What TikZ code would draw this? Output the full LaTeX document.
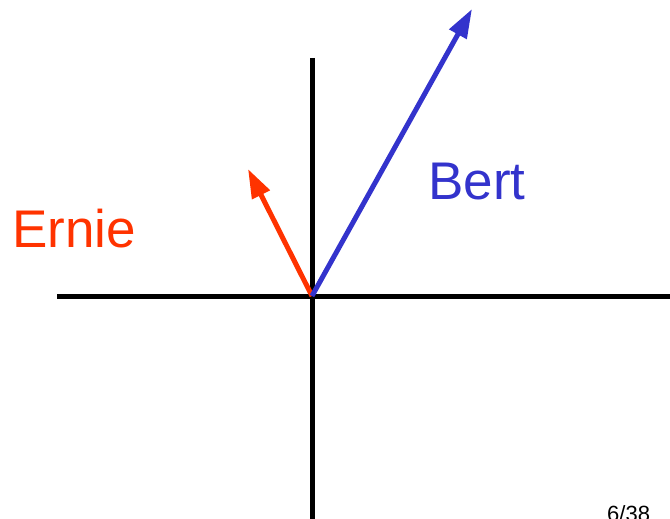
\documentclass[tikz,border=0pt]{standalone}
\usepackage{fontspec}
\setmainfont{Liberation Sans}
\usetikzlibrary{arrows.meta}
\definecolor{bertblue}{RGB}{51,51,204}
\definecolor{ernired}{RGB}{255,51,0}
\begin{document}
\begin{tikzpicture}[x=1pt,y=-1pt,
  axis/.style={line width=5pt,black},
  vec/.style={line width=5pt,-{Triangle[length=29pt,width=19pt]}},
  lbl/.style={inner sep=0pt,anchor=base west,font=\fontsize{53}{60}\selectfont}]
\useasboundingbox (0,0) rectangle (670,519);
\coordinate (o) at (312,296);
\coordinate (xl) at (57,296);
\coordinate (xr) at (670,296);
\coordinate (yt) at (312,58);
\coordinate (yb) at (312,519);
\coordinate (btip) at (472,9);
\coordinate (etip) at (248,169);
\draw[axis] (xl) -- (xr);
\draw[axis] (yt) -- (yb);
\draw[vec,ernired] (o) -- (etip);
\draw[vec,bertblue] (o) -- (btip);
\node[lbl,text=bertblue] (bert) at (428,199) {Bert};
\node[lbl,text=ernired] (ernie) at (12,247) {Ernie};
\node[inner sep=0pt,anchor=base west,font=\fontsize{22}{26}\selectfont] (page) at (607,521) {6/38};
\end{tikzpicture}
\end{document}
